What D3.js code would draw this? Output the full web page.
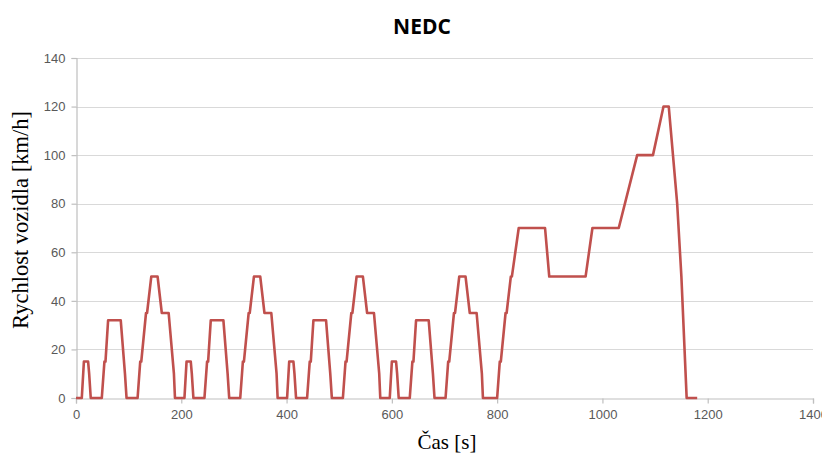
<!DOCTYPE html>
<html><head><meta charset="utf-8">
<script src="https://cdn.jsdelivr.net/npm/d3@7"></script>
<style>body{margin:0;background:#fff}svg{display:block}</style>
</head><body><svg id="c" width="822" height="455"></svg>
<script>
// NEDC breakpoints: time [s] and speed [km/h]
const timeS = [
  0,11,15,23,25,28,49,54,56,61,85,93,96,117,122,124,133,135,143,155,163,176,186,188,195,
  206,210,218,220,223,244,249,251,256,280,288,291,312,317,319,328,330,338,350,358,371,381,383,390,
  401,405,413,415,418,439,444,446,451,475,483,486,507,512,514,523,525,533,545,553,566,576,578,585,
  596,600,608,610,613,634,639,641,646,670,678,681,702,707,709,718,720,728,740,748,761,771,773,780,
  800,805,807,816,818,826,828,841,891,899,968,981,1031,1066,1096,1116,1126,1142,1150,1160,1180
];
const speedKmh = [
  0,0,15,15,10,0,0,15,15,32,32,10,0,0,15,15,35,35,50,50,35,35,10,0,0,
  0,15,15,10,0,0,15,15,32,32,10,0,0,15,15,35,35,50,50,35,35,10,0,0,
  0,15,15,10,0,0,15,15,32,32,10,0,0,15,15,35,35,50,50,35,35,10,0,0,
  0,15,15,10,0,0,15,15,32,32,10,0,0,15,15,35,35,50,50,35,35,10,0,0,
  0,15,15,35,35,50,50,70,70,50,50,70,70,100,100,120,120,80,50,0,0
];
const xTicks = [0,200,400,600,800,1000,1200,1400];
const yTicks = [0,20,40,60,80,100,120,140];
const title = "NEDC";
const xLabel = "Čas [s]";
const yLabel = "Rychlost vozidla [km/h]";

const svg = d3.select("#c");
const m = {l:76, r:9, t:58, b:57};
const W = 822, H = 455;
const x = d3.scaleLinear().domain([0,1400]).range([m.l, W-m.r]);
const y = d3.scaleLinear().domain([0,140]).range([H-m.b, m.t]);
const grey = "#bfbfbf";

// gridlines
svg.append("g").selectAll("line").data(yTicks.filter(d=>d>0)).join("line")
  .attr("x1", m.l).attr("x2", W-m.r)
  .attr("y1", d=>Math.round(y(d))+0.5).attr("y2", d=>Math.round(y(d))+0.5)
  .attr("stroke", "#d9d9d9").attr("stroke-width", 1.2);

const fontTick = "'Liberation Sans', Arial, sans-serif";
const yAxis = svg.append("g").attr("transform", `translate(${m.l+0.5},0)`)
  .call(d3.axisLeft(y).tickValues(yTicks).tickSize(5).tickPadding(6).tickFormat(d3.format("d")));
const xAxis = svg.append("g").attr("transform", `translate(0,${Math.round(y(0))+0.5})`)
  .call(d3.axisBottom(x).tickValues(xTicks).tickSize(5).tickPadding(6).tickFormat(d3.format("d")));
[yAxis, xAxis].forEach(a=>{
  a.select(".domain").attr("stroke", grey).attr("stroke-width", 1.2);
  a.selectAll(".tick line").attr("stroke", grey).attr("stroke-width", 1.2);
  a.selectAll(".tick text").attr("fill", "#595959").style("font-family", fontTick).style("font-size", "13px");
});

// data line
const pts = timeS.map((t,i)=>[t, speedKmh[i]]);
svg.append("path").datum(pts)
  .attr("fill","none").attr("stroke","#c0504d").attr("stroke-width",2.6)
  .attr("stroke-linejoin","round")
  .attr("d", d3.line().x(d=>x(d[0])).y(d=>y(d[1])));

svg.append("text").attr("x", 422).attr("y", 34).attr("text-anchor","middle")
  .style("font-family","'Open Sans', sans-serif").style("font-weight","bold").style("font-size","21px")
  .attr("fill","#000").text(title);
svg.append("text").attr("x", 447).attr("y", 449).attr("text-anchor","middle")
  .style("font-family","'Liberation Serif', 'Times New Roman', serif").style("font-size","21px")
  .attr("fill","#000").text(xLabel);
svg.append("text").attr("transform","translate(28,220) rotate(-90)").attr("text-anchor","middle")
  .style("font-family","'Liberation Serif', 'Times New Roman', serif").style("font-size","22.5px")
  .attr("fill","#000").text(yLabel);
</script></body></html>
